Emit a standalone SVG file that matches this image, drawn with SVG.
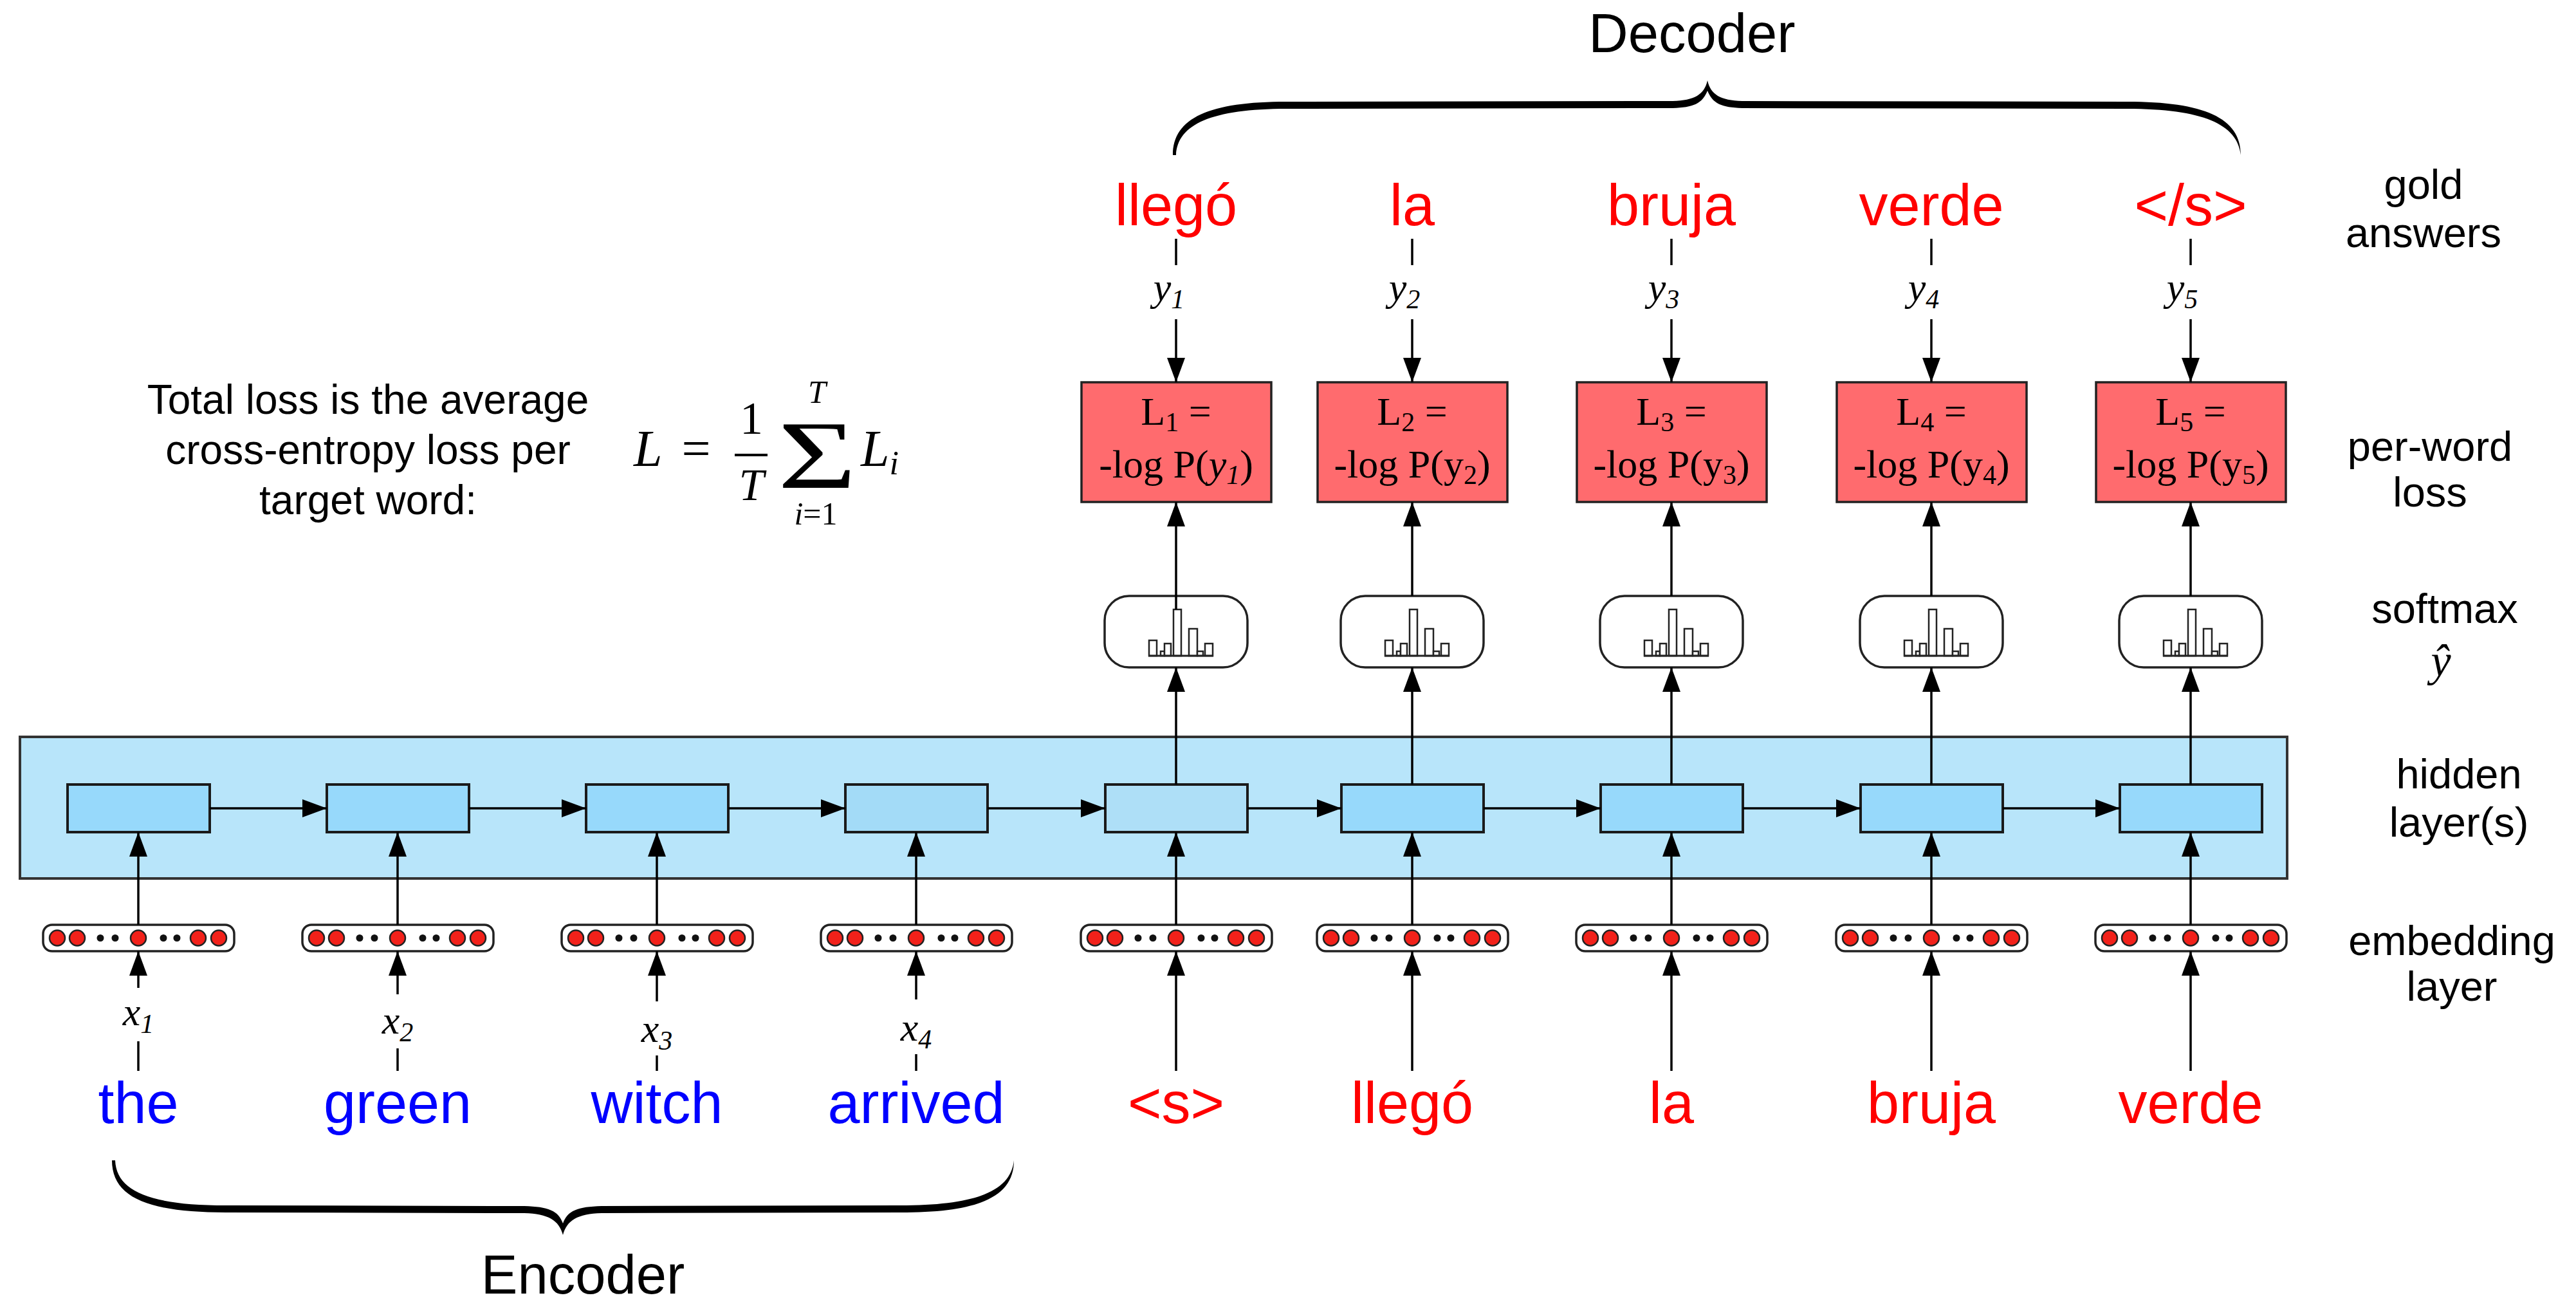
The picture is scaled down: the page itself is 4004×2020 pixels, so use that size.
<svg xmlns="http://www.w3.org/2000/svg" xmlns:xlink="http://www.w3.org/1999/xlink" width="4004" height="2020" viewBox="0 0 4004 2020">
<style>
.lbl{font-family:"Liberation Sans",Arial,sans-serif;font-size:65px;fill:#000;text-anchor:middle}
.title{font-family:"Liberation Sans",Arial,sans-serif;font-size:85px;fill:#000;text-anchor:middle}
.note{font-family:"Liberation Sans",Arial,sans-serif;font-size:64px;fill:#000;text-anchor:middle}
.word{font-family:"Liberation Sans",Arial,sans-serif;font-size:90px;text-anchor:middle}
.enc{fill:#0000FF}
.dec{fill:#FF0000}
.math{font-family:"Liberation Serif","Times New Roman",serif;font-style:italic;fill:#000}
.rm{font-family:"Liberation Serif","Times New Roman",serif;fill:#000}
.losst{font-family:"Liberation Serif","Times New Roman",serif;font-size:62px;fill:#000;text-anchor:middle}
.lossbox{fill:#FF6B6E;stroke:#222;stroke-width:3.5}
.cell{fill:#97D9FB;stroke:#1a1a1a;stroke-width:4}
.big{fill:#B8E5FA;stroke:#333;stroke-width:4}
.pill{fill:#fff;stroke:#222;stroke-width:3.5}
.on{fill:#F2211A;stroke:#222;stroke-width:2.5}
.dot{fill:#111}
.smx{fill:#fff;stroke:#222;stroke-width:3.5}
.bar{fill:#fff;stroke:#222;stroke-width:2.5}
.conn line{stroke:#000;stroke-width:3.5}
.brace{fill:#000}
</style>
<defs>
<marker id="ah" markerUnits="userSpaceOnUse" markerWidth="40" markerHeight="30" refX="38" refY="14" orient="auto">
<path d="M0,0 L38,14 L0,28 Z" fill="#000"/>
</marker>
<g id="embvec">
<rect class="pill" x="-148" y="0" width="297" height="41" rx="14"/>
<circle class="on" cx="-126" cy="20.5" r="12"/>
<circle class="on" cx="-95" cy="20.5" r="12"/>
<circle class="dot" cx="-59" cy="20.5" r="5.5"/>
<circle class="dot" cx="-36" cy="20.5" r="5.5"/>
<circle class="on" cx="0" cy="20.5" r="12"/>
<circle class="dot" cx="39" cy="20.5" r="5.5"/>
<circle class="dot" cx="60" cy="20.5" r="5.5"/>
<circle class="on" cx="93" cy="20.5" r="12"/>
<circle class="on" cx="125" cy="20.5" r="12"/>
</g>
<g id="softmax">
<rect class="smx" x="-111" y="0" width="222" height="111" rx="38"/>
<rect class="bar" x="-42" y="69" width="12" height="24"/>
<rect class="bar" x="-24" y="86" width="6" height="7"/>
<rect class="bar" x="-18" y="74" width="10" height="19"/>
<rect class="bar" x="-4" y="21" width="12" height="72"/>
<rect class="bar" x="20" y="51" width="13" height="42"/>
<rect class="bar" x="33" y="86" width="9" height="7"/>
<rect class="bar" x="45" y="74" width="12" height="19"/>
<line x1="-43" y1="93" x2="58" y2="93" stroke="#222" stroke-width="3"/>
</g>
</defs>

<rect width="4004" height="2020" fill="#fff"/>

<!-- hidden layer container -->
<g id="hidden-layer">
<rect class="big" x="31" y="1145" width="3524" height="220"/>
</g>

<!-- encoder cells -->
<g id="enc-h1"><rect class="cell" x="105" y="1219" width="221" height="74"/></g>
<g id="enc-h2"><rect class="cell" x="508" y="1219" width="221" height="74"/></g>
<g id="enc-h3"><rect class="cell" x="911" y="1219" width="221" height="74"/></g>
<g id="enc-h4"><rect class="cell" x="1314" y="1219" width="221" height="74" style="fill:#A3DBF7"/></g>
<!-- decoder cells -->
<g id="dec-h1"><rect class="cell" x="1718" y="1219" width="221" height="74" style="fill:#AEDFF7"/></g>
<g id="dec-h2"><rect class="cell" x="2085" y="1219" width="221" height="74"/></g>
<g id="dec-h3"><rect class="cell" x="2488" y="1219" width="221" height="74"/></g>
<g id="dec-h4"><rect class="cell" x="2892" y="1219" width="221" height="74"/></g>
<g id="dec-h5"><rect class="cell" x="3295" y="1219" width="221" height="74"/></g>

<!-- embeddings -->
<g id="emb-1"><use xlink:href="#embvec" x="215" y="1437"/></g>
<g id="emb-2"><use xlink:href="#embvec" x="618" y="1437"/></g>
<g id="emb-3"><use xlink:href="#embvec" x="1021" y="1437"/></g>
<g id="emb-4"><use xlink:href="#embvec" x="1424" y="1437"/></g>
<g id="emb-5"><use xlink:href="#embvec" x="1828" y="1437"/></g>
<g id="emb-6"><use xlink:href="#embvec" x="2195" y="1437"/></g>
<g id="emb-7"><use xlink:href="#embvec" x="2598" y="1437"/></g>
<g id="emb-8"><use xlink:href="#embvec" x="3002" y="1437"/></g>
<g id="emb-9"><use xlink:href="#embvec" x="3405" y="1437"/></g>

<!-- softmax -->
<g id="smx-1"><use xlink:href="#softmax" x="1828" y="926"/></g>
<g id="smx-2"><use xlink:href="#softmax" x="2195" y="926"/></g>
<g id="smx-3"><use xlink:href="#softmax" x="2598" y="926"/></g>
<g id="smx-4"><use xlink:href="#softmax" x="3002" y="926"/></g>
<g id="smx-5"><use xlink:href="#softmax" x="3405" y="926"/></g>

<!-- loss boxes -->
<g id="loss-1">
<rect class="lossbox" x="1681" y="594" width="295" height="186"/>
<text class="losst" x="1828" y="660">L<tspan font-size="42" dy="10">1</tspan><tspan dy="-10"> =</tspan></text>
<text class="losst" x="1828" y="742">-log P(<tspan font-style="italic">y</tspan><tspan font-style="italic" font-size="42" dy="10">1</tspan><tspan dy="-10">)</tspan></text>
</g>
<g id="loss-2">
<rect class="lossbox" x="2048" y="594" width="295" height="186"/>
<text class="losst" x="2195" y="660">L<tspan font-size="42" dy="10">2</tspan><tspan dy="-10"> =</tspan></text>
<text class="losst" x="2195" y="742">-log P(y<tspan font-size="42" dy="10">2</tspan><tspan dy="-10">)</tspan></text>
</g>
<g id="loss-3">
<rect class="lossbox" x="2451" y="594" width="295" height="186"/>
<text class="losst" x="2598" y="660">L<tspan font-size="42" dy="10">3</tspan><tspan dy="-10"> =</tspan></text>
<text class="losst" x="2598" y="742">-log P(y<tspan font-size="42" dy="10">3</tspan><tspan dy="-10">)</tspan></text>
</g>
<g id="loss-4">
<rect class="lossbox" x="2855" y="594" width="295" height="186"/>
<text class="losst" x="3002" y="660">L<tspan font-size="42" dy="10">4</tspan><tspan dy="-10"> =</tspan></text>
<text class="losst" x="3002" y="742">-log P(y<tspan font-size="42" dy="10">4</tspan><tspan dy="-10">)</tspan></text>
</g>
<g id="loss-5">
<rect class="lossbox" x="3258" y="594" width="295" height="186"/>
<text class="losst" x="3405" y="660">L<tspan font-size="42" dy="10">5</tspan><tspan dy="-10"> =</tspan></text>
<text class="losst" x="3405" y="742">-log P(y<tspan font-size="42" dy="10">5</tspan><tspan dy="-10">)</tspan></text>
</g>

<!-- connectors -->
<g id="connectors" class="conn">
<line x1="215" y1="1618" x2="215" y2="1664"/>
<line x1="618" y1="1629" x2="618" y2="1664"/>
<line x1="1021" y1="1640" x2="1021" y2="1664"/>
<line x1="1424" y1="1638" x2="1424" y2="1664"/>
<line x1="215" y1="1535" x2="215" y2="1478" marker-end="url(#ah)"/>
<line x1="618" y1="1545" x2="618" y2="1478" marker-end="url(#ah)"/>
<line x1="1021" y1="1556" x2="1021" y2="1478" marker-end="url(#ah)"/>
<line x1="1424" y1="1553" x2="1424" y2="1478" marker-end="url(#ah)"/>
<line x1="215" y1="1437" x2="215" y2="1293" marker-end="url(#ah)"/>
<line x1="618" y1="1437" x2="618" y2="1293" marker-end="url(#ah)"/>
<line x1="1021" y1="1437" x2="1021" y2="1293" marker-end="url(#ah)"/>
<line x1="1424" y1="1437" x2="1424" y2="1293" marker-end="url(#ah)"/>
<line x1="1828" y1="1437" x2="1828" y2="1293" marker-end="url(#ah)"/>
<line x1="2195" y1="1437" x2="2195" y2="1293" marker-end="url(#ah)"/>
<line x1="2598" y1="1437" x2="2598" y2="1293" marker-end="url(#ah)"/>
<line x1="3002" y1="1437" x2="3002" y2="1293" marker-end="url(#ah)"/>
<line x1="3405" y1="1437" x2="3405" y2="1293" marker-end="url(#ah)"/>
<line x1="1828" y1="1664" x2="1828" y2="1478" marker-end="url(#ah)"/>
<line x1="2195" y1="1664" x2="2195" y2="1478" marker-end="url(#ah)"/>
<line x1="2598" y1="1664" x2="2598" y2="1478" marker-end="url(#ah)"/>
<line x1="3002" y1="1664" x2="3002" y2="1478" marker-end="url(#ah)"/>
<line x1="3405" y1="1664" x2="3405" y2="1478" marker-end="url(#ah)"/>
<line x1="326" y1="1256" x2="508" y2="1256" marker-end="url(#ah)"/>
<line x1="729" y1="1256" x2="911" y2="1256" marker-end="url(#ah)"/>
<line x1="1132" y1="1256" x2="1314" y2="1256" marker-end="url(#ah)"/>
<line x1="1535" y1="1256" x2="1718" y2="1256" marker-end="url(#ah)"/>
<line x1="1939" y1="1256" x2="2085" y2="1256" marker-end="url(#ah)"/>
<line x1="2306" y1="1256" x2="2488" y2="1256" marker-end="url(#ah)"/>
<line x1="2709" y1="1256" x2="2892" y2="1256" marker-end="url(#ah)"/>
<line x1="3113" y1="1256" x2="3295" y2="1256" marker-end="url(#ah)"/>
<line x1="1828" y1="1219" x2="1828" y2="1037" marker-end="url(#ah)"/>
<line x1="2195" y1="1219" x2="2195" y2="1037" marker-end="url(#ah)"/>
<line x1="2598" y1="1219" x2="2598" y2="1037" marker-end="url(#ah)"/>
<line x1="3002" y1="1219" x2="3002" y2="1037" marker-end="url(#ah)"/>
<line x1="3405" y1="1219" x2="3405" y2="1037" marker-end="url(#ah)"/>
<line x1="1828" y1="947" x2="1828" y2="780" marker-end="url(#ah)"/>
<line x1="2195" y1="926" x2="2195" y2="780" marker-end="url(#ah)"/>
<line x1="2598" y1="926" x2="2598" y2="780" marker-end="url(#ah)"/>
<line x1="3002" y1="926" x2="3002" y2="780" marker-end="url(#ah)"/>
<line x1="3405" y1="926" x2="3405" y2="780" marker-end="url(#ah)"/>
<line x1="1828" y1="371" x2="1828" y2="412"/>
<line x1="2195" y1="371" x2="2195" y2="412"/>
<line x1="2598" y1="371" x2="2598" y2="412"/>
<line x1="3002" y1="371" x2="3002" y2="412"/>
<line x1="3405" y1="371" x2="3405" y2="412"/>
<line x1="1828" y1="496" x2="1828" y2="594" marker-end="url(#ah)"/>
<line x1="2195" y1="496" x2="2195" y2="594" marker-end="url(#ah)"/>
<line x1="2598" y1="496" x2="2598" y2="594" marker-end="url(#ah)"/>
<line x1="3002" y1="496" x2="3002" y2="594" marker-end="url(#ah)"/>
<line x1="3405" y1="496" x2="3405" y2="594" marker-end="url(#ah)"/>
</g>

<!-- input words -->
<g id="words-enc">
<text class="word enc" x="215" y="1745">the</text>
<text class="word enc" x="618" y="1745">green</text>
<text class="word enc" x="1021" y="1745">witch</text>
<text class="word enc" x="1424" y="1745">arrived</text>
</g>
<g id="words-dec-in">
<text class="word dec" x="1828" y="1745">&lt;s&gt;</text>
<text class="word dec" x="2195" y="1745">llegó</text>
<text class="word dec" x="2598" y="1745">la</text>
<text class="word dec" x="3002" y="1745">bruja</text>
<text class="word dec" x="3405" y="1745">verde</text>
</g>
<g id="words-gold">
<text class="word dec" x="1828" y="350">llegó</text>
<text class="word dec" x="2195" y="350">la</text>
<text class="word dec" x="2598" y="350">bruja</text>
<text class="word dec" x="3002" y="350">verde</text>
<text class="word dec" x="3405" y="350">&lt;/s&gt;</text>
</g>

<!-- x labels -->
<g id="x-labels" class="math" font-size="62" text-anchor="middle">
<text x="215" y="1593">x<tspan font-size="42" dy="12">1</tspan></text>
<text x="618" y="1606">x<tspan font-size="42" dy="12">2</tspan></text>
<text x="1021" y="1619">x<tspan font-size="42" dy="12">3</tspan></text>
<text x="1424" y="1617">x<tspan font-size="42" dy="12">4</tspan></text>
</g>
<!-- y labels -->
<g id="y-labels" class="math" font-size="62" text-anchor="middle">
<text x="1817" y="467">y<tspan font-size="42" dy="12">1</tspan></text>
<text x="2183" y="467">y<tspan font-size="42" dy="12">2</tspan></text>
<text x="2586" y="467">y<tspan font-size="42" dy="12">3</tspan></text>
<text x="2990" y="467">y<tspan font-size="42" dy="12">4</tspan></text>
<text x="3392" y="467">y<tspan font-size="42" dy="12">5</tspan></text>
</g>

<!-- braces -->
<g id="decoder-brace">
<path class="brace" d="M1823,241 C1823,183 1880,158 2000,158 L2600,157 C2634,156 2649,147 2654,125 C2659,147 2674,156 2708,157 L3306,158 C3426,158 3483,183 3483,241 C3478,193 3424,169 3306,169 L2708,168 C2676,167 2662,161 2654,141 C2646,161 2632,167 2600,168 L2000,169 C1884,169 1830,193 1828,241 Z"/>
<text class="title" x="2630" y="81">Decoder</text>
</g>
<g id="encoder-brace">
<path class="brace" d="M174,1803 C174,1861 231,1884 351,1884 L815,1885 C852,1886 869,1896 875,1919 C881,1896 898,1886 935,1885 L1399,1884 C1519,1884 1576,1861 1576,1803 C1571,1851 1517,1873 1399,1873 L935,1874 C898,1875 882,1881 875,1901 C868,1881 852,1875 815,1874 L351,1873 C233,1873 181,1851 179,1803 Z"/>
<text class="title" x="906" y="2010">Encoder</text>
</g>

<!-- loss note -->
<g id="loss-note">
<text class="note" x="572" y="643">Total loss is the average</text>
<text class="note" x="572" y="721">cross-entropy loss per</text>
<text class="note" x="572" y="799">target word:</text>
</g>
<g id="formula">
<text class="math" x="985" y="724" font-size="80">L</text>
<text class="rm" x="1082" y="724" font-size="80" text-anchor="middle">=</text>
<text class="rm" x="1168" y="674" font-size="72" text-anchor="middle">1</text>
<line x1="1142" y1="707" x2="1193" y2="707" stroke="#000" stroke-width="4"/>
<text class="math" x="1168" y="777" font-size="70" text-anchor="middle">T</text>
<text class="rm" font-size="120" text-anchor="middle" transform="translate(1270,758) scale(1.75,1.25)">Σ</text>
<text class="math" x="1270" y="626" font-size="50" text-anchor="middle">T</text>
<text class="math" x="1268" y="815" font-size="50" text-anchor="middle">i<tspan font-style="normal">=1</tspan></text>
<text class="math" x="1338" y="724" font-size="80">L<tspan font-size="52" dy="13">i</tspan></text>
</g>

<!-- row labels -->
<g id="row-labels">
<text class="lbl" x="3767" y="309">gold</text>
<text class="lbl" x="3767" y="384">answers</text>
<text class="lbl" x="3777" y="716">per-word</text>
<text class="lbl" x="3777" y="787">loss</text>
<text class="lbl" x="3800" y="968">softmax</text>
<text class="math" x="3794" y="1050" font-size="70" text-anchor="middle">ŷ</text>
<text class="lbl" x="3822" y="1225">hidden</text>
<text class="lbl" x="3822" y="1300">layer(s)</text>
<text class="lbl" x="3811" y="1484">embedding</text>
<text class="lbl" x="3811" y="1555">layer</text>
</g>
</svg>
